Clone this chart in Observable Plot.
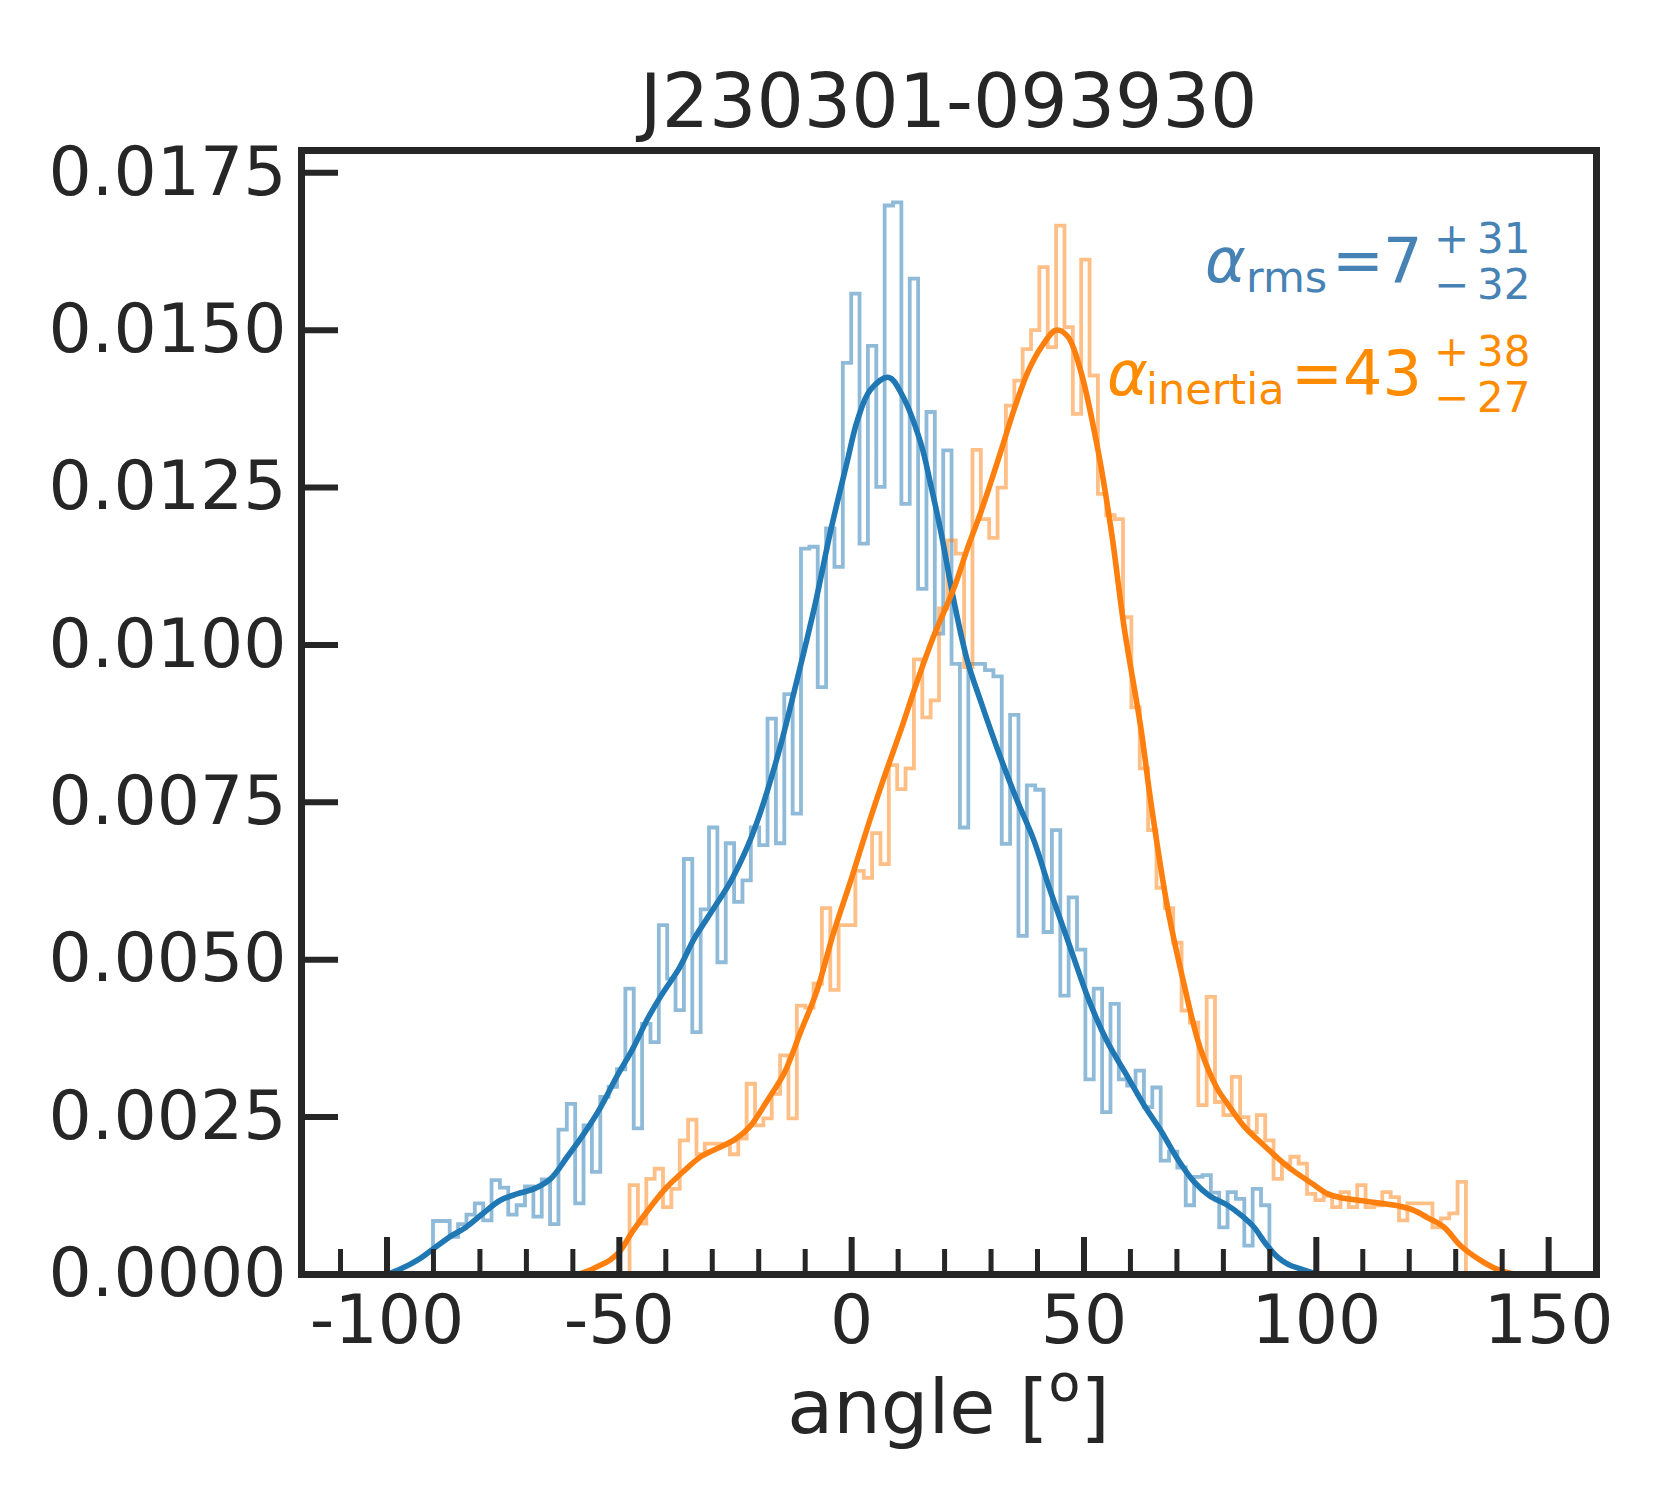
<!DOCTYPE html>
<html>
<head>
<meta charset="utf-8">
<script src="https://cdn.jsdelivr.net/npm/d3@7"></script>
<script src="https://cdn.jsdelivr.net/npm/@observablehq/plot@0.6"></script>
<style>
  html, body { margin: 0; padding: 0; background: #ffffff; overflow: hidden; }
  svg { font-family: "DejaVu Sans", sans-serif; }
</style>
</head>
<body>
<div id="chart"></div>
<script>
// ---------------- data ----------------
const title = "J230301-093930";
const BIN_WIDTH = 1.8;            // degrees per histogram bin
const blueFirstEdge = -90.1;      // left edge of first alpha_rms bin
const orangeFirstEdge = -47.8;    // left edge of first alpha_inertia bin

// histogram densities, in units of 1e-4 (100 bins each)
const blueDensityE4 = [
  8.5, 8.5, 6.0, 8.0, 9.5, 11.3, 8.6, 15.0, 13.8, 9.5,
  11.0, 14.0, 9.2, 15.1, 8.0, 23.0, 27.1, 11.3, 23.7, 16.3,
  28.2, 29.8, 32.6, 45.4, 23.2, 39.8, 36.9, 55.5, 47.0, 42.0,
  66.0, 38.5, 58.0, 71.0, 49.6, 68.5, 59.2, 62.6, 71.0, 68.2,
  88.3, 68.5, 92.2, 73.2, 115.3, 115.6, 93.3, 118.5, 112.4, 144.8,
  155.8, 116.1, 147.5, 125.1, 169.8, 170.3, 122.4, 158.2, 108.9, 137.0,
  101.8, 130.9, 97.0, 71.0, 97.0, 97.0, 96.0, 95.0, 68.4, 88.9,
  53.8, 77.7, 77.0, 54.4, 70.6, 44.3, 59.9, 51.6, 31.0, 45.4,
  25.8, 43.0, 31.0, 30.0, 32.4, 26.6, 29.7, 18.1, 19.5, 17.0,
  11.0, 15.5, 15.8, 13.0, 7.5, 13.1, 12.0, 4.6, 13.6, 11.0
];
const orangeDensityE4 = [
  14.2, 8.1, 15.2, 16.8, 10.7, 13.6, 21.3, 24.6, 19.1, 20.8,
  20.8, 20.5, 19.1, 21.6, 30.3, 23.7, 24.8, 28.7, 34.8, 24.8,
  42.7, 42.4, 46.2, 58.2, 45.2, 55.5, 55.5, 64.1, 63.0, 70.1,
  65.2, 80.9, 77.1, 80.4, 97.7, 88.5, 91.2, 105.8, 116.6, 114.5,
  96.5, 131.0, 120.0, 117.0, 125.0, 138.0, 142.0, 147.0, 150.0, 160.0,
  147.3, 166.6, 150.5, 136.7, 161.2, 142.8, 124.0, 120.6, 120.0, 104.4,
  90.1, 80.4, 70.6, 61.4, 58.2, 52.7, 41.9, 40.0, 26.9, 44.1,
  27.4, 25.3, 31.4, 25.0, 22.6, 25.3, 21.3, 15.2, 17.6, 18.7,
  17.6, 12.8, 11.8, 12.5, 10.7, 13.1, 10.7, 14.2, 10.7, 11.0,
  13.1, 12.3, 8.6, 11.3, 11.3, 11.3, 7.5, 8.9, 9.7, 14.7
];

// KDE curves (angle in degrees, density in 1e-4)
const blueKdeX = [-100, -97, -93, -90, -86, -83, -79.5, -75.6, -72, -68.4,
  -64.8, -61.2, -57.5, -54, -50.5, -47, -44, -41, -37, -34,
  -30, -26, -22.4, -19.6, -15.5, -12.4, -8, -4.5, -1, 1.2,
  4, 8, 11, 14.9, 17, 19.2, 22, 24.9, 27.8, 32.1,
  35.5, 39.2, 42.5, 46.4, 51.1, 55, 59.4, 63, 66.5, 70,
  73.7, 77, 80.9, 84, 86.6, 89, 91.6, 94, 96.6, 100.3];
const blueKdeE4 = [0, 0.9, 2.5, 4.1, 6.2, 7.5, 9.6, 11.8, 12.8, 13.6,
  15.2, 18.7, 22.5, 26.6, 31.5, 36, 40.5, 44.3, 48.8, 53.2,
  57.8, 62.5, 68, 73.5, 83.5, 92.5, 106, 118.2, 129, 135.6,
  140.5, 142.5, 139.5, 132, 125.5, 118, 107, 97.5, 91, 82,
  75.5, 69, 61.5, 53.3, 43.5, 37, 31.4, 26.8, 22.9, 18.5,
  14.7, 12.5, 11, 9.3, 7.5, 5, 2.8, 1.6, 0.9, 0];
const orangeKdeX = [-59, -56, -54, -52, -50, -47, -43, -40, -36, -32.5,
  -29, -25, -22, -18, -14.5, -11, -7.5, -4, 0, 3.4,
  7, 10.5, 14, 17.7, 22, 25, 28, 32, 35, 38,
  41, 44, 46.5, 49.3, 53, 56, 58.6, 62.2, 64.4, 68,
  71.5, 75, 78.7, 81, 84.5, 88, 92, 95, 99, 102.5,
  106, 110, 114, 117, 121, 124, 127.5, 131, 135, 139, 143];
const orangeKdeE4 = [0, 0.8, 1.5, 2.3, 3.6, 7, 11, 13.7, 16.5, 18.7,
  20, 21.5, 23.4, 27.8, 32, 38.5, 45, 54, 63, 71,
  79, 86.3, 94, 101.5, 109, 115.5, 121.5, 130.5, 137.5, 143.5,
  147.5, 150, 149, 143.5, 131, 117.5, 103, 87, 75, 58.2,
  46.2, 36, 29.5, 27, 23.5, 21, 18.3, 16.5, 14.5, 12.8,
  12.1, 11.7, 11.3, 11, 10.2, 9, 7.5, 4.6, 2.4, 0.8, 0];

const xMajorTicks = [-100, -50, 0, 50, 100, 150];
const xMinorTicks = [-110, -90, -80, -70, -60, -40, -30, -20, -10, 10, 20, 30, 40,
  60, 70, 80, 90, 110, 120, 130, 140];
const yTicks = [0, 0.0025, 0.005, 0.0075, 0.01, 0.0125, 0.015, 0.0175];

const labelRms = { sym: "α", sub: "rms", value: "7", plus: "31", minus: "32" };
const labelInertia = { sym: "α", sub: "inertia", value: "43", plus: "38", minus: "27" };

// ---------------- tables built from the arrays ----------------
const E4 = 1e-4;
function stepOutline(firstEdge, densE4) {
  const pts = [{ x: firstEdge, y: 0 }];
  densE4.forEach((d, i) => pts.push({ x: firstEdge + i * BIN_WIDTH, y: d * E4 }));
  const last = firstEdge + densE4.length * BIN_WIDTH;
  pts.push({ x: last, y: densE4[densE4.length - 1] * E4 });
  pts.push({ x: last, y: 0 });
  return pts;
}
const blueHist = stepOutline(blueFirstEdge, blueDensityE4);
const orangeHist = stepOutline(orangeFirstEdge, orangeDensityE4);
const blueKde = blueKdeX.map((x, i) => ({ x, y: blueKdeE4[i] * E4 }));
const orangeKde = orangeKdeX.map((x, i) => ({ x, y: orangeKdeE4[i] * E4 }));

// ---------------- layout ----------------
const W = 1680, H = 1500;
const mL = 301, mR = 84, mT = 150, mB = 226;
const plotW = W - mL - mR, plotH = H - mT - mB;
const ink = "#262626";
const C0 = "#1f77b4", C1 = "#ff7f0e";
const tickFont = 68;

const chart = Plot.plot({
  width: W, height: H,
  marginLeft: mL, marginRight: mR, marginTop: mT, marginBottom: mB,
  style: { fontFamily: "DejaVu Sans", fontSize: tickFont + "px", color: ink, background: "#ffffff", overflow: "visible" },
  x: { domain: [-118.4, 160.3] },
  y: { domain: [0, 0.017854] },
  marks: [
    Plot.line(blueHist, { x: "x", y: "y", curve: "step-after", stroke: C0, strokeOpacity: 0.5,
      strokeWidth: 3.8, strokeLinejoin: "miter", strokeLinecap: "butt", strokeMiterlimit: 10 }),
    Plot.line(orangeHist, { x: "x", y: "y", curve: "step-after", stroke: C1, strokeOpacity: 0.5,
      strokeWidth: 3.8, strokeLinejoin: "miter", strokeLinecap: "butt", strokeMiterlimit: 10 }),
    Plot.line(blueKde, { x: "x", y: "y", curve: "catmull-rom", stroke: C0, strokeWidth: 5.6 }),
    Plot.line(orangeKde, { x: "x", y: "y", curve: "catmull-rom", stroke: C1, strokeWidth: 5.6 }),
    Plot.tickX(xMajorTicks, { x: d => d, insetTop: plotH - 37, stroke: ink, strokeWidth: 6 }),
    Plot.tickX(xMinorTicks, { x: d => d, insetTop: plotH - 25, stroke: ink, strokeWidth: 5 }),
    Plot.tickY(yTicks, { y: d => d, insetRight: plotW - 37, stroke: ink, strokeWidth: 6 }),
    Plot.axisX(xMajorTicks, { tickSize: 0, tickPadding: 20, tickFormat: d => String(d), label: null, fontSize: tickFont, fill: ink }),
    Plot.axisY(yTicks, { tickSize: 0, tickPadding: 15, tickFormat: d3.format(".4f"), label: null, fontSize: tickFont, fill: ink }),
    Plot.frame({ stroke: ink, strokeWidth: 7 })
  ]
});
document.getElementById("chart").appendChild(chart);

// ---------------- titles and annotations ----------------
const svg = d3.select(chart);
const cx = mL + plotW / 2;
svg.append("text").attr("x", cx).attr("y", 127).attr("text-anchor", "middle")
  .attr("font-size", 74.5).attr("fill", ink).attr("font-family", "DejaVu Sans").text(title);

const xl = svg.append("text").attr("x", cx).attr("y", 1433).attr("text-anchor", "middle")
  .attr("font-size", 75).attr("fill", ink).attr("font-family", "DejaVu Sans");
xl.append("tspan").text("angle [");
xl.append("tspan").attr("font-size", 52).attr("dy", -32).text("o");
xl.append("tspan").attr("dy", 32).text("]");

const ann = svg.append("g").attr("font-family", "DejaVu Sans").attr("text-anchor", "start");
function put(x, y, s, size, fill, italic) {
  ann.append("text").attr("x", x).attr("y", y).attr("font-size", size).attr("fill", fill)
    .attr("text-anchor", "start")
    .attr("font-style", italic ? "italic" : null).text(s);
}
const cRms = "#4682b4", cIn = "#ff8c00";
put(1205, 282, labelRms.sym, 62, cRms, true);
put(1246, 292, labelRms.sub, 43, cRms);
put(1332, 282, "=", 62, cRms);
put(1383, 282, labelRms.value, 62, cRms);
put(1434, 253, "+", 42, cRms);
put(1477, 253, labelRms.plus, 42, cRms);
put(1434, 299, "\u2212", 42, cRms);
put(1477, 299, labelRms.minus, 42, cRms);

put(1107, 395, labelInertia.sym, 62, cIn, true);
put(1146, 404, labelInertia.sub, 43, cIn);
put(1291, 395, "=", 62, cIn);
put(1343, 395, labelInertia.value, 62, cIn);
put(1434, 366, "+", 42, cIn);
put(1477, 366, labelInertia.plus, 42, cIn);
put(1434, 412, "\u2212", 42, cIn);
put(1477, 412, labelInertia.minus, 42, cIn);
</script>
</body>
</html>
